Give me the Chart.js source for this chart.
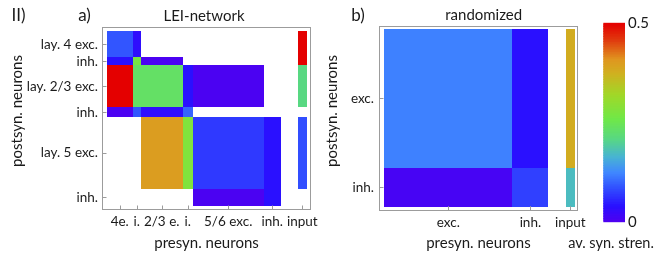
<!DOCTYPE html>
<html>
<head>
<meta charset="utf-8">
<script src="https://cdn.jsdelivr.net/npm/chart.js@4.4.0/dist/chart.umd.min.js"></script>
<style>
    body { margin: 0; background: #fff; width: 654px; height: 262px; position: relative; overflow: hidden; }
    .box { position: absolute; top: 0; height: 262px; }
</style>
</head>
<body>
<div class="box" style="left:0;width:330px"><canvas id="chartA"></canvas></div>
<div class="box" style="left:320px;width:270px"><canvas id="chartB"></canvas></div>
<div class="box" style="left:560px;width:94px"><canvas id="chartBar"></canvas></div>
<script>
// a) LEI-network: relative group sizes, tick labels, av. synaptic strength (rows = postsyn., cols = presyn.)
var groupSizesA = [26, 8, 42, 10, 71, 17];
var preLabelsA = ['4e.', 'i.', '2/3 e.', 'i.', '5/6 exc.', 'inh.', 'input'];
var postLabelsA = ['lay. 4 exc.', 'inh.', 'lay. 2/3 exc.', 'inh.', 'lay. 5 exc.', 'inh.'];
var strengthA = [
    [0.09, 0.035, null, null, null, null],
    [0.04, 0.27, 0.005, null, null, null],
    [0.5, 0.235, 0.235, 0.04, 0.005, null],
    [0.005, 0.09, 0.035, 0.10, null, null],
    [null, null, 0.40, 0.28, 0.07, 0.04],
    [null, null, null, null, 0.005, 0.04]
];
var inputA = [0.5, 0.5, 0.21, null, 0.085, null];

// b) randomized
var groupSizesB = [78, 22];
var preLabelsB = ['exc.', 'inh.', 'input'];
var postLabelsB = ['exc.', 'inh.'];
var strengthB = [
    [0.12, 0.04],
    [0.01, 0.075]
];
var inputB = [0.38, 0.175];

// colour bar
var colorbarTicks = [0, 0.5];

var TEXT = '#1a1a1a';
var FRAME = '#9c9c9c';
var FONT = 'Lato';

// rainbow colour function (fraction of max -> rgb)
var cmapStops = [
    [0.00, [80, 0, 240]],
    [0.08, [42, 16, 255]],
    [0.18, [50, 85, 255]],
    [0.25, [64, 136, 255]],
    [0.33, [72, 180, 210]],
    [0.42, [88, 216, 130]],
    [0.52, [112, 232, 72]],
    [0.64, [160, 216, 40]],
    [0.75, [208, 176, 32]],
    [0.82, [224, 150, 32]],
    [0.91, [224, 64, 16]],
    [1.00, [228, 0, 0]]
];

function strengthColor(v) {
    var t = Math.max(0, Math.min(1, v / colorbarTicks[colorbarTicks.length - 1]));
    for (var i = 1; i < cmapStops.length; i++) {
        if (t <= cmapStops[i][0]) {
            var a = cmapStops[i - 1], b = cmapStops[i];
            var f = (t - a[0]) / (b[0] - a[0]);
            var c = a[1].map((x, k) => Math.round(x + (b[1][k] - x) * f));
            return 'rgb(' + c.join(',') + ')';
        }
    }
    return 'rgb(228,0,0)';
}

function edgesOf(sizes) {
    var e = [0];
    sizes.forEach(s => e.push(e[e.length - 1] + s));
    return e;
}

function centersOf(sizes) {
    var e = edgesOf(sizes);
    return sizes.map((s, i) => e[i] + s / 2);
}

function drawTexts(ctx, items) {
    items.forEach(it => {
        ctx.save();
        ctx.fillStyle = TEXT;
        ctx.font = it.size + 'px ' + FONT;
        ctx.textAlign = 'center';
        ctx.textBaseline = 'middle';
        ctx.translate(it.x, it.y);
        if (it.rotate) ctx.rotate(-Math.PI / 2);
        ctx.fillText(it.text, 0, 0);
        ctx.restore();
    });
}

function createMatrixChart(canvasId, cfg) {
    var xEdges = edgesOf(cfg.sizes);
    var total = xEdges[xEdges.length - 1];
    var inStart = total + cfg.inputGap;
    var inEnd = inStart + cfg.inputWidth;
    var xTicks = centersOf(cfg.sizes).concat([(inStart + inEnd) / 2]);
    var yTicks = centersOf(cfg.sizes);

    var matrixPlugin = {
        id: 'matrixCells',
        beforeDatasetsDraw(chart) {
            var ctx = chart.ctx, xs = chart.scales.x, ys = chart.scales.y;
            function cell(x0, x1, y0, y1, v) {
                if (v === null) return;
                var px0 = Math.round(xs.getPixelForValue(x0)), px1 = Math.round(xs.getPixelForValue(x1));
                var py0 = Math.round(ys.getPixelForValue(y0)), py1 = Math.round(ys.getPixelForValue(y1));
                ctx.fillStyle = strengthColor(v);
                ctx.fillRect(px0, Math.min(py0, py1), px1 - px0, Math.abs(py1 - py0));
            }
            ctx.save();
            cfg.matrix.forEach((row, r) => {
                row.forEach((v, c) => cell(xEdges[c], xEdges[c + 1], xEdges[r], xEdges[r + 1], v));
                cell(inStart, inEnd, xEdges[r], xEdges[r + 1], cfg.input[r]);
            });
            ctx.restore();
        },
        afterDraw(chart) {
            var ctx = chart.ctx, a = chart.chartArea, xs = chart.scales.x, ys = chart.scales.y;
            ctx.save();
            ctx.strokeStyle = FRAME;
            ctx.lineWidth = 1;
            ctx.strokeRect(Math.round(a.left) + 0.5, Math.round(a.top) + 0.5,
                Math.round(a.right - a.left) - 1, Math.round(a.bottom - a.top) - 1);
            // inward tick marks
            ctx.beginPath();
            xTicks.forEach(v => {
                var px = Math.round(xs.getPixelForValue(v)) + 0.5;
                ctx.moveTo(px, a.bottom);
                ctx.lineTo(px, a.bottom - 4.5);
            });
            yTicks.forEach(v => {
                var py = Math.round(ys.getPixelForValue(v)) + 0.5;
                ctx.moveTo(a.left, py);
                ctx.lineTo(a.left + 4.5, py);
            });
            ctx.stroke();
            ctx.restore();
            drawTexts(ctx, cfg.texts);
        }
    };

    var ctx = document.getElementById(canvasId).getContext('2d');
    return new Chart(ctx, {
        type: 'scatter',
        data: { datasets: [{ data: [] }] },
        options: {
            responsive: true,
            maintainAspectRatio: false,
            animation: false,
            events: [],
            layout: { padding: cfg.padding },
            plugins: { legend: { display: false }, tooltip: { enabled: false } },
            scales: {
                x: {
                    type: 'linear',
                    min: cfg.xRange[0],
                    max: cfg.xRange[1],
                    afterBuildTicks: s => { s.ticks = xTicks.map(v => ({ value: v })); },
                    afterFit: s => { s.height = cfg.xAxisHeight; },
                    grid: { display: false, drawTicks: false },
                    border: { display: false },
                    ticks: {
                        autoSkip: false, maxRotation: 0, minRotation: 0, padding: 4,
                        color: TEXT, font: { family: FONT, size: 13.5 },
                        callback: (v, i) => cfg.xLabels[i]
                    },
                    title: {
                        display: true, text: 'presyn. neurons', color: TEXT,
                        font: { family: FONT, size: 15 }, padding: { top: 0, bottom: 10 }
                    }
                },
                y: {
                    type: 'linear',
                    reverse: true,
                    min: cfg.yRange[0],
                    max: cfg.yRange[1],
                    afterBuildTicks: s => { s.ticks = yTicks.map(v => ({ value: v })); },
                    afterFit: s => { s.width = cfg.yAxisWidth; },
                    grid: { display: false, drawTicks: false },
                    border: { display: false },
                    ticks: {
                        autoSkip: false, padding: cfg.yTickPadding,
                        color: TEXT, font: { family: FONT, size: 13.5 },
                        callback: (v, i) => cfg.yLabels[i]
                    }
                }
            }
        },
        plugins: [matrixPlugin]
    });
}

function createColorbar() {
    var barPlugin = {
        id: 'colorbar',
        beforeDatasetsDraw(chart) {
            var ctx = chart.ctx, a = chart.chartArea, ys = chart.scales.y;
            var lo = colorbarTicks[0], hi = colorbarTicks[colorbarTicks.length - 1];
            var n = 120;
            ctx.save();
            for (var i = 0; i < n; i++) {
                var v0 = lo + (hi - lo) * i / n, v1 = lo + (hi - lo) * (i + 1) / n;
                var p0 = ys.getPixelForValue(v0), p1 = ys.getPixelForValue(v1);
                ctx.fillStyle = strengthColor((v0 + v1) / 2);
                ctx.fillRect(a.left, p1 - 0.5, a.right - a.left, p0 - p1 + 1);
            }
            ctx.restore();
        },
        afterDraw(chart) {
            drawTexts(chart.ctx, [{ text: 'av. syn. stren.', x: 51, y: 243, size: 14.5 }]);
        }
    };
    var ctx = document.getElementById('chartBar').getContext('2d');
    return new Chart(ctx, {
        type: 'scatter',
        data: { datasets: [{ data: [] }] },
        options: {
            responsive: true,
            maintainAspectRatio: false,
            animation: false,
            events: [],
            layout: { padding: { left: 43.3, top: 23.3, right: 0, bottom: 0 } },
            plugins: { legend: { display: false }, tooltip: { enabled: false } },
            scales: {
                x: {
                    type: 'linear', min: 0, max: 1,
                    afterFit: s => { s.height = 40.3; },
                    grid: { display: false, drawTicks: false },
                    border: { display: false },
                    ticks: { display: false }
                },
                y: {
                    type: 'linear', position: 'right',
                    min: colorbarTicks[0], max: colorbarTicks[colorbarTicks.length - 1],
                    afterBuildTicks: s => { s.ticks = colorbarTicks.map(v => ({ value: v })); },
                    afterFit: s => { s.width = 29; },
                    grid: { display: false, drawTicks: false },
                    border: { display: false },
                    ticks: { padding: 3, color: TEXT, font: { family: FONT, size: 15 }, callback: v => String(v) }
                }
            }
        },
        plugins: [barPlugin]
    });
}

createMatrixChart('chartA', {
    sizes: groupSizesA, matrix: strengthA, input: inputA,
    xLabels: preLabelsA, yLabels: postLabelsA,
    inputGap: 17.3, inputWidth: 8.7,
    xRange: [-4.7, 204.3], yRange: [-4.3, 178.3],
    padding: { left: 0, right: 19, top: 27, bottom: 0 },
    yAxisWidth: 102, xAxisHeight: 52, yTickPadding: 4,
    texts: [
        { text: 'II)', x: 18.5, y: 15.5, size: 17 },
        { text: 'a)', x: 84.5, y: 15.5, size: 17 },
        { text: 'LEI-network', x: 204, y: 16.5, size: 15 },
        { text: 'postsyn. neurons', x: 17, y: 111, size: 15, rotate: true }
    ]
});

createMatrixChart('chartB', {
    sizes: groupSizesB, matrix: strengthB, input: inputB,
    xLabels: preLabelsB, yLabels: postLabelsB,
    inputGap: 10.7, inputWidth: 5.2,
    xRange: [-3.2, 117.9], yRange: [-1.86, 102.25],
    padding: { left: 0, right: 10, top: 26, bottom: 0 },
    yAxisWidth: 59, xAxisHeight: 51.3, yTickPadding: 5,
    texts: [
        { text: 'b)', x: 38, y: 15.5, size: 17 },
        { text: 'randomized', x: 163.7, y: 15.5, size: 15 },
        { text: 'postsyn. neurons', x: 12.5, y: 111, size: 15, rotate: true }
    ]
});

createColorbar();
</script>
</body>
</html>
